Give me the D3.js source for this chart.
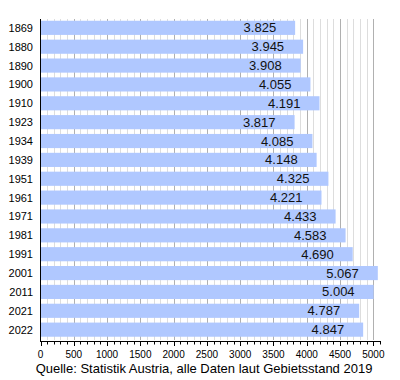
<!DOCTYPE html>
<html><head><meta charset="utf-8">
<script src="https://cdn.jsdelivr.net/npm/d3@7"></script>
<style>body{margin:0;background:#fff}svg{display:block}text{font-family:"Liberation Sans",Arial,sans-serif}</style>
</head><body><svg id="c" width="400" height="380"></svg>
<script>
const years = ["1869","1880","1890","1900","1910","1923","1934","1939","1951","1961","1971","1981","1991","2001","2011","2021","2022"];
const population = [3825,3945,3908,4055,4191,3817,4085,4148,4325,4221,4433,4583,4690,5067,5004,4787,4847];
const majorTicks = [0,500,1000,1500,2000,2500,3000,3500,4000,4500,5000];
const caption = "Quelle: Statistik Austria, alle Daten laut Gebietsstand 2019";

const svg = d3.select("#c");
const x = d3.scaleLinear().domain([0,5100]).range([40.5,380]);
const y = d3.scaleBand().domain(years).range([18.5,339]).paddingInner(0.25).paddingOuter(0.12);
const minor = d3.range(100,5100,100).filter(v=>v%500!==0);

// grid
svg.append("g").selectAll("line").data(minor).join("line")
  .attr("x1",d=>Math.round(x(d))+0.5).attr("x2",d=>Math.round(x(d))+0.5)
  .attr("y1",19).attr("y2",340).attr("stroke","#dddddd").attr("stroke-width",1);
svg.append("g").selectAll("line").data(majorTicks.filter(d=>d>0)).join("line")
  .attr("x1",d=>Math.round(x(d))+0.5).attr("x2",d=>Math.round(x(d))+0.5)
  .attr("y1",19).attr("y2",340).attr("stroke","#b0b0b0").attr("stroke-width",1);

// bars
svg.append("g").selectAll("rect").data(years).join("rect")
  .attr("x",x(0)).attr("y",d=>y(d)).attr("height",y.bandwidth())
  .attr("width",(d,i)=>x(population[i])-x(0)).attr("fill","#b0c8ff");

// value labels
const fmt = v => (v/1000).toFixed(3);
svg.append("g").selectAll("text").data(years).join("text")
  .attr("x",(d,i)=>x(population[i])-19).attr("y",d=>y(d)+y.bandwidth()/2+4.5)
  .attr("text-anchor","end").attr("font-size",13).attr("fill","#111")
  .text((d,i)=>fmt(population[i]));

// year labels
svg.append("g").selectAll("text").data(years).join("text")
  .attr("x",33).attr("y",d=>y(d)+y.bandwidth()/2+4)
  .attr("text-anchor","end").attr("font-size",11).attr("fill","#000").text(d=>d);

// y axis line
svg.append("line").attr("x1",40.5).attr("x2",40.5).attr("y1",19).attr("y2",341).attr("stroke","#000");

// x axis
const ax = svg.append("g").attr("transform","translate(0,341)");
ax.append("line").attr("x1",40).attr("x2",380).attr("y1",0.5).attr("y2",0.5).attr("stroke","#000");
ax.selectAll("line.mi").data(d3.range(0,5200,100)).join("line").attr("class","mi")
  .attr("x1",d=>Math.round(x(d))+0.5).attr("x2",d=>Math.round(x(d))+0.5)
  .attr("y1",0).attr("y2",d=>d%500===0?5:3.5).attr("stroke","#000");
ax.selectAll("text").data(majorTicks).join("text")
  .attr("x",d=>x(d)).attr("y",17).attr("text-anchor","middle").attr("font-size",10).attr("fill","#000")
  .text(d=>d);

svg.append("text").attr("x",204).attr("y",373).attr("text-anchor","middle")
  .attr("font-size",13).attr("fill","#000").text(caption);
</script></body></html>
